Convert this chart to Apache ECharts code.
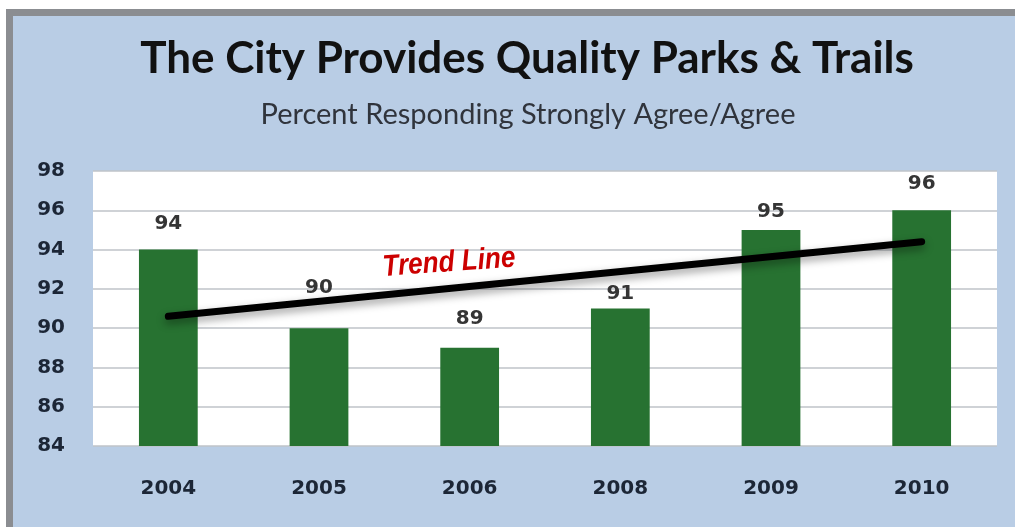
<!DOCTYPE html>
<html>
<head>
<meta charset="utf-8">
<script src="https://cdn.jsdelivr.net/npm/echarts@6/dist/echarts.min.js"></script>
<style>
  html, body { margin: 0; padding: 0; background: #ffffff; }
  #chart { width: 1015px; height: 527px; }
</style>
</head>
<body>
<div id="chart"></div>
<script>
// Survey years and share responding "Strongly Agree/Agree"
const years = ['2004', '2005', '2006', '2008', '2009', '2010'];
const agreePct = [94, 90, 89, 91, 95, 96];
// Trend line end points (first and last year)
const trendEnds = [90.6, 94.4];
// Value axis ticks
const yMin = 84, yMax = 98, yStep = 2;

// Gap (px) between each bar top and its value label, nudged clear of the trend line
const labelGap = [16, 30, 19, 5, 8, 16];

const TITLE_FONT = 'Lato, "Open Sans", sans-serif';
const NUM_FONT = '"DejaVu Sans", Verdana, sans-serif';
const chart = echarts.init(document.getElementById('chart'));

const barData = agreePct.map((v, i) => ({
  value: v,
  label: { distance: labelGap[i] }
}));

chart.setOption({
  backgroundColor: '#ffffff',
  animation: false,
  graphic: [
    {
      type: 'rect', z: -10, silent: true,
      shape: { x: 9.5, y: 12.5, width: 1030, height: 540 },
      style: { fill: '#b9cde5', stroke: '#8b8d91', lineWidth: 7 }
    },
    {
      type: 'text', z: 50,
      x: 449, y: 263, rotation: 0.07, scaleX: 0.87,
      style: {
        text: 'Trend Line',
        font: 'italic bold 30px "Liberation Sans", Arial, sans-serif',
        fill: '#cc0000',
        align: 'center', verticalAlign: 'middle'
      }
    }
  ],
  title: [
    {
      text: 'The City Provides Quality Parks & Trails',
      left: 522, top: 32, textAlign: 'center',
      textStyle: { fontFamily: TITLE_FONT, fontWeight: 'bold', fontSize: 44, color: '#111111' }
    },
    {
      text: 'Percent Responding Strongly Agree/Agree',
      left: 523, top: 95, textAlign: 'center',
      textStyle: { fontFamily: TITLE_FONT, fontWeight: 'normal', fontSize: 29, color: '#30343c' }
    }
  ],
  grid: {
    left: 93, right: 18, top: 171, bottom: 81,
    show: true, backgroundColor: '#ffffff', borderWidth: 0
  },
  xAxis: {
    type: 'category',
    data: years,
    axisLine: { show: false },
    axisTick: { show: false },
    axisLabel: {
      margin: 33, fontFamily: NUM_FONT, fontWeight: 'bold', fontSize: 20, color: '#1c2636'
    }
  },
  yAxis: {
    type: 'value',
    min: yMin, max: yMax, interval: yStep,
    axisLine: { show: false },
    axisTick: { show: false },
    splitLine: { lineStyle: { color: '#bfc3c9', width: 1.5 } },
    axisLabel: {
      margin: 28, fontFamily: NUM_FONT, fontWeight: 'bold', fontSize: 20, color: '#1c2636'
    }
  },
  series: [
    {
      type: 'bar',
      data: barData,
      barWidth: '39%',
      itemStyle: { color: '#277231' },
      label: {
        show: true, position: 'top',
        fontFamily: NUM_FONT, fontWeight: 'bold', fontSize: 20, color: '#353535'
      }
    },
    {
      type: 'line',
      data: [[years[0], trendEnds[0]], [years[years.length - 1], trendEnds[1]]],
      symbol: 'none',
      z: 10,
      lineStyle: {
        color: '#000000', width: 7, cap: 'round',
        shadowColor: 'rgba(0,0,0,0.4)', shadowBlur: 8, shadowOffsetY: 4
      }
    }
  ]
});
</script>
</body>
</html>
